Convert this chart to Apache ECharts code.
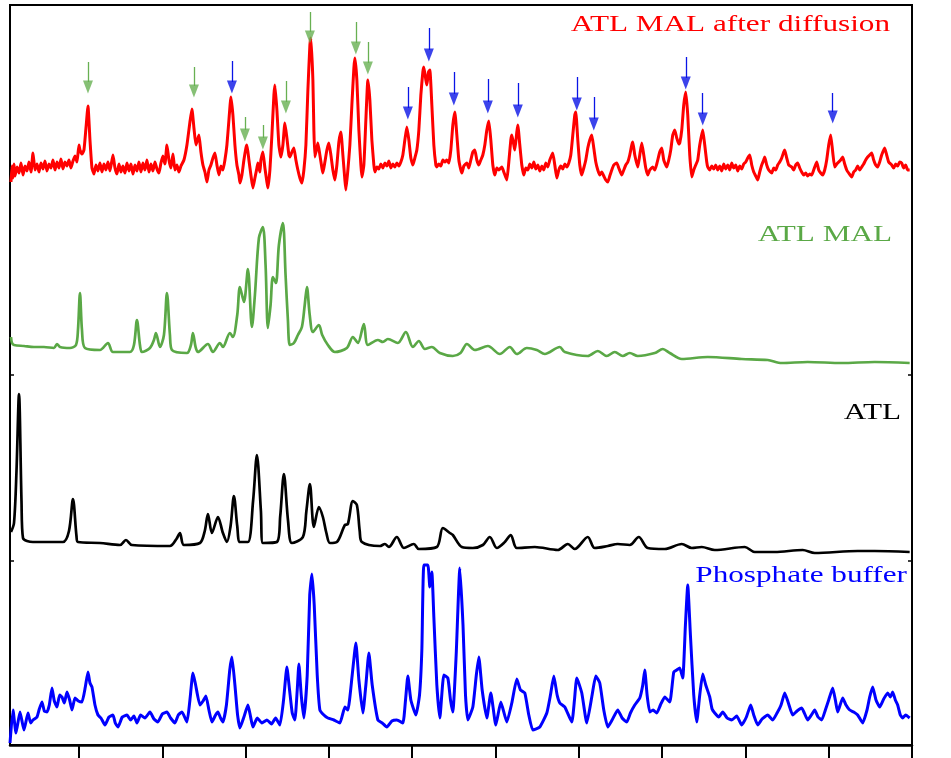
<!DOCTYPE html>
<html>
<head>
<meta charset="utf-8">
<script src="https://cdn.jsdelivr.net/npm/echarts@6/dist/echarts.min.js"></script>
<style>html,body{margin:0;padding:0;background:#fff}#c{width:951px;height:758px}</style>
</head>
<body>
<div id="c"></div>
<script>
// 2-theta tick positions (degrees)
const tickTheta = [10, 15, 20, 25, 30, 35, 40, 45, 50, 55, 60];
const thetaMin = 5.86, thetaMax = 60;

// Pattern labels
const labels = ['ATL MAL after diffusion', 'ATL MAL', 'ATL', 'Phosphate buffer'];

// ATL MAL after diffusion (red) [2theta, intensity a.u.]
const redPattern = [
[5.92,8],[5.98,24],[6.04,12],[6.10,26],[6.16,14],[6.28,23],[6.40,17],[6.52,27],[6.64,15],[6.76,24],[6.88,19],[7.00,28],[7.12,18],[7.24,37],[7.36,20],[7.48,26],[7.60,18],[7.72,27],[7.84,21],[7.96,29],[8.08,19],[8.20,26],[8.32,22],[8.44,30],[8.56,20],[8.68,28],[8.80,22],[8.92,31],[9.04,21],[9.16,28],[9.28,24],[9.40,30],[9.52,22],[9.64,29],[9.76,34],[9.88,28],[10.00,45],[10.06,40],[10.18,36],[10.30,40],[10.42,62],[10.54,84],[10.66,50],[10.78,22],[10.90,16],[11.02,25],[11.14,19],[11.26,27],[11.38,18],[11.50,26],[11.62,20],[11.74,28],[11.86,19],[12.04,35],[12.16,22],[12.28,16],[12.40,26],[12.52,18],[12.64,24],[12.76,17],[12.88,27],[13.00,19],[13.12,26],[13.24,16],[13.36,25],[13.48,19],[13.60,28],[13.72,18],[13.84,27],[13.96,20],[14.08,30],[14.20,18],[14.32,26],[14.44,19],[14.56,28],[14.68,21],[14.80,17],[14.92,27],[15.04,34],[15.16,26],[15.28,45],[15.40,30],[15.52,22],[15.64,36],[15.76,20],[15.88,25],[16.00,18],[16.12,24],[16.30,30],[16.48,45],[16.66,68],[16.78,81],[16.90,62],[17.02,45],[17.20,55],[17.32,38],[17.44,25],[17.56,18],[17.68,8],[17.80,20],[17.92,25],[18.04,32],[18.16,37],[18.28,25],[18.40,15],[18.52,24],[18.64,20],[18.76,30],[18.88,45],[19.00,70],[19.12,93],[19.24,75],[19.36,45],[19.48,25],[19.60,15],[19.66,7],[19.78,15],[19.90,30],[20.02,42],[20.08,45],[20.20,30],[20.32,15],[20.44,2],[20.56,12],[20.68,22],[20.74,27],[20.86,18],[20.92,30],[21.04,38],[21.16,22],[21.28,8],[21.34,2],[21.46,20],[21.58,55],[21.70,95],[21.76,105],[21.88,80],[22.00,45],[22.12,33],[22.24,45],[22.36,67],[22.48,52],[22.60,35],[22.66,33],[22.78,38],[22.90,42],[23.02,30],[23.14,20],[23.26,12],[23.38,7],[23.50,20],[23.62,45],[23.74,100],[23.86,145],[23.92,152],[24.04,110],[24.10,60],[24.16,33],[24.28,42],[24.34,47],[24.46,35],[24.58,22],[24.64,17],[24.76,28],[24.88,40],[25.00,47],[25.12,35],[25.24,20],[25.36,10],[25.48,25],[25.60,48],[25.72,58],[25.84,35],[25.96,10],[26.02,0],[26.14,20],[26.26,45],[26.38,85],[26.50,122],[26.56,132],[26.68,110],[26.80,60],[26.92,25],[26.98,13],[27.10,25],[27.22,70],[27.34,110],[27.46,90],[27.58,50],[27.70,25],[27.76,18],[27.88,23],[28.00,21],[28.12,26],[28.24,22],[28.36,27],[28.48,24],[28.60,29],[28.72,22],[28.84,26],[28.96,23],[29.08,27],[29.20,24],[29.32,28],[29.44,35],[29.56,50],[29.68,63],[29.80,50],[29.92,32],[30.04,25],[30.16,32],[30.28,40],[30.40,60],[30.52,95],[30.64,118],[30.70,123],[30.82,110],[30.88,105],[30.98,118],[31.06,120],[31.18,85],[31.30,45],[31.42,25],[31.48,23],[31.60,26],[31.72,24],[31.84,30],[31.96,28],[32.08,30],[32.20,27],[32.32,40],[32.44,65],[32.56,78],[32.68,55],[32.80,30],[32.92,20],[32.98,17],[33.10,24],[33.28,27],[33.40,22],[33.52,30],[33.64,38],[33.76,40],[33.88,30],[34.00,25],[34.12,30],[34.24,35],[34.36,45],[34.48,60],[34.60,69],[34.72,50],[34.84,25],[34.96,15],[35.08,22],[35.20,20],[35.38,23],[35.50,18],[35.68,10],[35.80,28],[35.92,50],[35.98,55],[36.10,45],[36.16,40],[36.28,58],[36.34,65],[36.46,45],[36.58,25],[36.70,15],[36.82,22],[36.94,20],[37.06,26],[37.18,22],[37.30,28],[37.42,21],[37.54,25],[37.66,19],[37.78,24],[37.90,20],[38.02,27],[38.14,23],[38.26,30],[38.38,35],[38.44,37],[38.56,25],[38.68,12],[38.80,20],[38.92,24],[39.04,21],[39.16,26],[39.28,23],[39.40,27],[39.52,35],[39.64,55],[39.76,75],[39.82,78],[39.94,50],[40.06,25],[40.18,15],[40.30,22],[40.42,30],[40.54,42],[40.66,50],[40.78,55],[40.90,42],[41.02,28],[41.14,20],[41.26,15],[41.38,18],[41.50,14],[41.62,10],[41.74,8],[41.86,14],[41.98,20],[42.10,25],[42.28,27],[42.40,22],[42.58,15],[42.70,20],[42.82,25],[42.94,28],[43.06,35],[43.18,45],[43.24,48],[43.36,35],[43.54,23],[43.66,35],[43.78,47],[43.90,35],[44.02,22],[44.14,15],[44.26,20],[44.44,23],[44.56,20],[44.68,26],[44.86,38],[44.98,42],[45.10,30],[45.28,23],[45.40,30],[45.52,40],[45.64,55],[45.76,60],[45.88,52],[46.00,46],[46.06,47],[46.18,60],[46.30,85],[46.42,98],[46.54,75],[46.66,35],[46.78,13],[46.90,20],[47.02,25],[47.14,30],[47.26,45],[47.44,60],[47.56,45],[47.68,28],[47.74,23],[47.86,20],[47.98,24],[48.10,21],[48.22,25],[48.34,20],[48.46,24],[48.58,19],[48.70,26],[48.82,21],[48.94,25],[49.06,20],[49.18,27],[49.30,22],[49.42,25],[49.54,19],[49.66,24],[49.78,21],[49.90,26],[50.02,28],[50.14,32],[50.26,35],[50.38,25],[50.50,18],[50.62,14],[50.74,10],[50.86,18],[50.98,25],[51.10,30],[51.16,33],[51.28,25],[51.40,20],[51.58,17],[51.70,22],[51.82,20],[51.94,25],[52.06,28],[52.18,32],[52.30,38],[52.36,40],[52.48,32],[52.60,25],[52.78,23],[52.90,20],[53.02,25],[53.14,27],[53.26,22],[53.38,18],[53.50,15],[53.62,17],[53.74,14],[53.86,16],[53.98,15],[54.10,20],[54.28,28],[54.40,20],[54.52,17],[54.64,15],[54.76,20],[54.88,30],[55.00,45],[55.12,55],[55.24,38],[55.36,23],[55.48,26],[55.60,28],[55.72,30],[55.84,33],[55.96,26],[56.08,20],[56.20,17],[56.38,13],[56.50,18],[56.62,20],[56.74,24],[56.86,20],[56.98,23],[57.10,26],[57.22,30],[57.34,33],[57.46,35],[57.58,37],[57.70,30],[57.82,25],[57.94,23],[58.06,28],[58.18,35],[58.36,42],[58.48,35],[58.60,28],[58.78,25],[58.90,22],[59.02,26],[59.14,24],[59.26,28],[59.38,27],[59.50,22],[59.62,25],[59.74,20],[59.86,20]
];

// ATL MAL (green)
const greenPattern = [
[5.92,38],[5.98,32],[6.10,30],[6.70,29],[7.30,28],[7.90,28],[8.50,27],[8.68,31],[8.86,28],[9.46,27],[9.82,30],[9.94,45],[10.06,82],[10.18,45],[10.36,27],[11.26,25],[11.74,32],[12.04,23],[13.06,23],[13.30,30],[13.48,55],[13.66,30],[13.78,23],[14.26,27],[14.50,35],[14.62,42],[14.86,28],[15.10,40],[15.28,82],[15.46,40],[15.58,25],[16.48,22],[16.72,30],[16.84,42],[17.00,28],[17.14,23],[17.74,31],[18.04,23],[18.46,32],[18.64,28],[19.06,42],[19.24,38],[19.50,60],[19.66,88],[19.90,73],[20.14,106],[20.38,48],[20.56,80],[20.80,137],[21.04,148],[21.20,110],[21.34,47],[21.50,70],[21.64,98],[21.82,92],[22.00,130],[22.24,152],[22.40,100],[22.54,55],[22.66,30],[22.90,32],[23.14,40],[23.38,48],[23.55,70],[23.68,88],[23.85,60],[24.04,43],[24.40,50],[24.60,40],[24.94,30],[25.36,23],[26.08,27],[26.44,38],[26.74,32],[27.10,51],[27.34,30],[27.94,35],[28.24,33],[28.54,36],[29.14,32],[29.62,43],[30.04,28],[30.40,34],[30.76,26],[31.18,28],[31.66,22],[32.44,19],[32.90,22],[33.28,31],[33.64,26],[33.76,25],[34.54,29],[35.26,21],[35.86,28],[36.28,21],[36.88,27],[37.48,25],[37.96,21],[38.86,28],[39.16,23],[40.54,19],[41.14,24],[41.68,19],[42.16,23],[42.64,19],[43.06,22],[43.54,19],[44.56,22],[45.04,26],[45.46,22],[46.18,16],[47.74,18],[49.78,16],[51.34,15],[52.18,12],[53.74,13],[55.78,12],[57.76,13],[59.86,12]
];

// ATL (black)
const blackPattern = [
[5.92,29],[6.10,38],[6.25,90],[6.40,167],[6.55,60],[6.64,23],[7.24,19],[9.04,19],[9.40,30],[9.64,62],[9.85,25],[9.94,19],[11.26,18],[12.46,16],[12.82,21],[13.18,16],[15.46,15],[15.85,22],[16.06,28],[16.30,16],[17.26,18],[17.55,30],[17.74,47],[17.98,28],[18.34,44],[18.64,28],[18.88,19],[19.10,35],[19.30,65],[19.50,35],[19.66,19],[20.14,19],[20.45,60],[20.68,106],[20.92,50],[21.04,18],[21.88,19],[22.08,45],[22.30,87],[22.55,40],[22.78,18],[23.44,24],[23.65,50],[23.86,77],[24.10,34],[24.40,54],[24.64,44],[24.85,28],[25.06,18],[25.48,19],[25.96,36],[26.14,37],[26.44,60],[26.68,56],[26.85,30],[26.98,19],[28.06,15],[28.36,17],[28.60,14],[29.08,24],[29.50,13],[30.10,17],[30.40,12],[31.48,14],[31.84,33],[32.26,28],[32.44,26],[32.98,14],[33.64,13],[34.24,16],[34.66,24],[35.08,13],[35.56,19],[35.92,26],[36.28,13],[37.36,14],[38.74,11],[39.34,17],[39.76,12],[40.54,24],[40.96,13],[41.74,15],[42.34,17],[43.06,16],[43.60,24],[44.14,13],[45.16,12],[46.18,17],[46.78,13],[47.38,14],[48.16,11],[49.96,14],[50.56,9],[51.76,9],[53.44,11],[54.16,8],[56.74,10],[57.76,10],[59.86,9]
];

// Phosphate buffer (blue)
const bluePattern = [
[5.86,2],[6.04,35],[6.22,12],[6.46,33],[6.70,15],[6.94,32],[7.10,22],[7.24,25],[7.48,28],[7.62,36],[7.78,43],[7.92,34],[8.08,33],[8.22,40],[8.38,57],[8.52,44],[8.68,38],[8.84,50],[8.98,48],[9.12,42],[9.28,53],[9.44,45],[9.58,35],[9.76,47],[9.96,44],[10.18,43],[10.38,58],[10.54,73],[10.66,62],[10.78,58],[10.96,40],[11.14,30],[11.32,27],[11.56,20],[11.80,28],[12.04,30],[12.18,22],[12.34,18],[12.60,28],[12.88,30],[13.10,25],[13.30,29],[13.48,22],[13.70,30],[13.96,27],[14.26,33],[14.50,26],[14.74,23],[15.00,31],[15.28,33],[15.50,27],[15.76,22],[15.96,30],[16.18,33],[16.48,23],[16.66,45],[16.84,72],[16.98,62],[17.26,40],[17.45,44],[17.62,49],[17.80,35],[17.98,23],[18.20,30],[18.34,33],[18.50,27],[18.64,23],[18.85,40],[19.05,75],[19.18,88],[19.36,60],[19.52,30],[19.66,17],[19.90,28],[20.14,40],[20.28,30],[20.44,18],[20.70,27],[20.98,22],[21.28,25],[21.56,21],[21.80,27],[22.06,20],[22.28,45],[22.48,78],[22.64,55],[22.80,32],[22.96,25],[23.10,55],[23.20,81],[23.34,50],[23.50,27],[23.70,70],[23.85,150],[23.98,171],[24.12,140],[24.30,70],[24.46,35],[24.70,30],[24.94,27],[25.30,25],[25.66,22],[25.96,38],[26.14,35],[26.40,70],[26.62,102],[26.80,65],[27.04,32],[27.22,60],[27.40,92],[27.60,60],[27.94,25],[28.20,22],[28.48,18],[28.78,24],[29.08,25],[29.44,22],[29.60,45],[29.74,69],[29.92,45],[30.22,30],[30.44,50],[30.58,95],[30.70,180],[30.94,180],[31.06,158],[31.18,173],[31.30,128],[31.48,60],[31.66,27],[31.90,70],[32.14,67],[32.30,45],[32.44,33],[32.64,90],[32.86,177],[33.05,120],[33.20,50],[33.34,25],[33.64,38],[33.85,70],[34.00,88],[34.20,55],[34.48,27],[34.72,52],[35.02,20],[35.32,43],[35.68,23],[35.98,42],[36.28,66],[36.50,55],[36.76,52],[37.00,30],[37.24,15],[37.66,18],[38.08,32],[38.30,50],[38.50,69],[38.70,50],[38.86,42],[39.16,38],[39.58,23],[39.74,45],[39.88,67],[40.18,52],[40.48,22],[40.80,50],[41.02,69],[41.26,62],[41.50,35],[41.74,18],[42.00,25],[42.34,35],[42.60,27],[42.88,23],[43.10,32],[43.36,40],[43.66,47],[43.84,60],[43.96,75],[44.10,50],[44.26,33],[44.46,35],[44.68,32],[44.90,40],[45.16,48],[45.46,43],[45.70,73],[45.88,75],[46.06,77],[46.24,67],[46.40,120],[46.54,160],[46.70,110],[46.90,50],[47.08,23],[47.26,50],[47.44,71],[47.62,60],[47.86,48],[48.00,36],[48.16,32],[48.40,28],[48.64,33],[48.90,27],[49.18,25],[49.48,29],[49.78,20],[50.06,28],[50.32,40],[50.50,30],[50.74,20],[51.00,26],[51.34,30],[51.64,25],[51.90,32],[52.14,40],[52.36,52],[52.58,42],[52.84,30],[53.10,34],[53.38,37],[53.74,25],[53.96,30],[54.16,35],[54.36,28],[54.58,25],[54.80,35],[55.00,45],[55.24,57],[55.40,45],[55.54,33],[55.84,47],[56.04,40],[56.26,35],[56.50,33],[56.74,30],[57.04,22],[57.30,35],[57.46,48],[57.64,58],[57.84,45],[58.06,38],[58.30,46],[58.54,52],[58.70,48],[58.84,53],[59.00,45],[59.14,40],[59.30,30],[59.44,27],[59.62,30],[59.86,27]
];

// Arrow markers on the top pattern (2theta, arrow top, arrow tip) in red-panel intensity units
const greenArrowTheta = [10.54, 16.90, 19.96, 21.04, 22.42, 23.86, 26.62, 27.34];
const greenArrowTop   = [128, 123, 73, 65, 109, 178, 168, 148];
const greenArrowTip   = [97, 93, 49, 41, 77, 147, 136, 116];
const blueArrowTheta  = [19.18, 29.74, 31.00, 32.50, 34.54, 36.34, 39.88, 40.90, 46.42, 47.44, 55.24];
const blueArrowTop    = [129, 103, 162, 118, 111, 107, 113, 93, 133, 97, 97];
const blueArrowTip    = [97, 71, 129, 85, 77, 73, 80, 60, 101, 65, 67];

const chart = echarts.init(document.getElementById('c'), null, {renderer: 'canvas'});

const COL = {red: '#ff0000', green: '#5aa846', black: '#000000', blue: '#0000ff', greenArrow: '#68b052', blueArrow: '#0a14e6'};
const serif = '"Liberation Serif", "Times New Roman", serif';

// panels (pixel layout)
const panels = [
  {top: 5, height: 185},
  {top: 190, height: 185},
  {top: 375, height: 186},
  {top: 561, height: 184}
];
const plotLeft = 10, plotWidth = 902;

const grids = panels.map(p => ({left: plotLeft, width: plotWidth, top: p.top, height: p.height}));
grids.push({left: plotLeft, width: plotWidth, top: 5, height: 740, show: true, borderColor: '#000', borderWidth: 2, backgroundColor: 'rgba(0,0,0,0)'});

const xAxes = panels.map((p, i) => ({gridIndex: i, type: 'value', min: thetaMin, max: thetaMax, show: false}));
xAxes.push({
  gridIndex: 4, type: 'value', min: thetaMin, max: thetaMax,
  axisLine: {show: true, onZero: false, lineStyle: {color: '#000', width: 2.5}},
  axisTick: {show: true, inside: false, length: 14, customValues: tickTheta, lineStyle: {color: '#000', width: 2}},
  axisLabel: {show: false}, splitLine: {show: false}
});

const yAxes = panels.map((p, i) => ({gridIndex: i, type: 'value', min: 0, max: p.height, show: false}));
yAxes.push({gridIndex: 4, type: 'value', min: 0, max: 1, show: false});
['left', 'right'].forEach(pos => yAxes.push({
  gridIndex: 2, type: 'value', min: 0, max: panels[2].height, interval: panels[2].height, position: pos,
  axisLine: {show: false},
  axisTick: {show: true, inside: true, length: 4, lineStyle: {color: '#000', width: 1.5}},
  axisLabel: {show: false}, splitLine: {show: false}
}));

function lineSeries(data, idx, color, width, smooth) {
  return {type: 'line', xAxisIndex: idx, yAxisIndex: idx, data: data, showSymbol: false, symbol: 'none',
    smooth: smooth, clip: false, silent: true, lineStyle: {color: color, width: width, join: 'round'}, z: 3};
}

function arrowSeries(theta, top, tip, color) {
  return [
    {
      type: 'scatter', xAxisIndex: 0, yAxisIndex: 0, silent: true, z: 5,
      symbol: 'triangle', symbolRotate: 180, symbolSize: [10, 13],
      itemStyle: {color: color},
      data: theta.map((t, i) => [t, tip[i] + 6]),
      markLine: {
        silent: true, symbol: 'none', animation: false,
        label: {show: false},
        lineStyle: {color: color, width: 1.3, type: 'solid'},
        emphasis: {disabled: true},
        data: theta.map((t, i) => [{coord: [t, top[i]]}, {coord: [t, tip[i] + 11]}])
      }
    }
  ];
}

const series = [
  lineSeries(redPattern, 0, COL.red, 3, 0.15),
  lineSeries(greenPattern, 1, COL.green, 2.7, 0.3),
  lineSeries(blackPattern, 2, COL.black, 2.7, 0.3),
  lineSeries(bluePattern, 3, COL.blue, 3, 0.15),
  ...arrowSeries(greenArrowTheta, greenArrowTop, greenArrowTip, COL.greenArrow),
  ...arrowSeries(blueArrowTheta, blueArrowTop, blueArrowTip, COL.blueArrow)
];

function label(text, x, y, color) {
  return {type: 'text', x: x, y: y, scaleX: 1.3, z: 10, silent: true,
    style: {text: text, fill: color, font: '24px ' + serif,
      textAlign: 'right', align: 'right', textVerticalAlign: 'middle', verticalAlign: 'middle'}};
}

chart.setOption({
  animation: false,
  backgroundColor: '#ffffff',
  grid: grids,
  xAxis: xAxes,
  yAxis: yAxes,
  series: series,
  graphic: [
    label(labels[0], 890, 25, COL.red),
    label(labels[1], 892, 235, COL.green),
    label(labels[2], 901, 413, COL.black),
    label(labels[3], 907, 576, COL.blue)
  ]
});
</script>
</body>
</html>
